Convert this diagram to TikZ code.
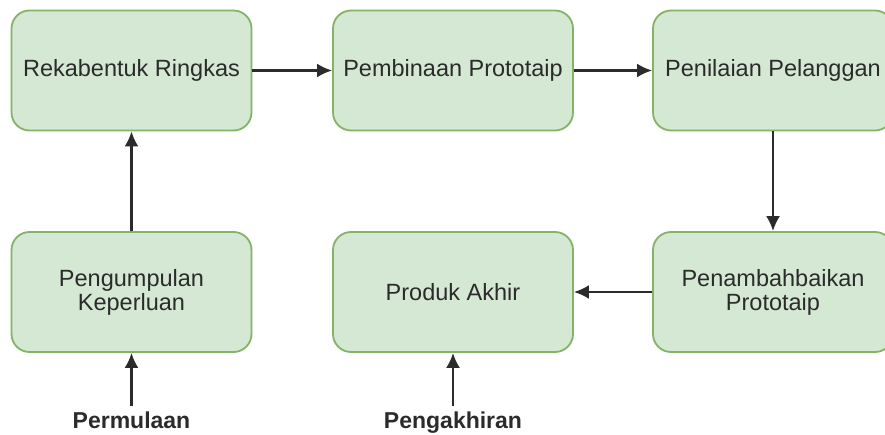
\documentclass[tikz,border=0pt]{standalone}
\usepackage{fontspec}
\setmainfont{Liberation Sans}
\usetikzlibrary{arrows.meta}
\definecolor{boxfill}{HTML}{D5E8D4}
\definecolor{boxline}{HTML}{82B366}
\definecolor{txt}{HTML}{2B2B2B}

\begin{document}
\begin{tikzpicture} [x=1pt, y=-1pt,
  stage/.style={draw=boxline, fill=boxfill, line width=1.8pt, rounded corners=18pt,
    minimum width=240pt, minimum height=120pt, align=center, text=txt,
    font=\fontsize{23.5}{24}\selectfont},
  endlabel/.style={anchor=base, inner sep=5pt, text=txt, font=\fontsize{23}{26}\selectfont\bfseries},
  flow/.style={line width=2.4pt, draw=txt, -{Latex[length=15pt,width=14pt]}}]
\useasboundingbox (0,0) rectangle (885,435);
\clip (0,0) rectangle (885,435);
% top row
\node[stage] (ringkas) at (131.5,70.5) {Rekabentuk Ringkas};
\node[stage] (bina) at (453,70.5) {Pembinaan Prototaip};
\node[stage] (nilai) at (773,70.5) {Penilaian Pelanggan};
% bottom row
\node[stage] (kumpul) at (131.5,292) {Pengumpulan\\Keperluan};
\node[stage] (produk) at (453,292) {Produk Akhir};
\node[stage] (baik) at (773,292) {Penambahbaikan\\Prototaip};
% start / end
\node[endlabel] (mula) at (131.5,428) {Permulaan};
\node[endlabel] (akhir) at (453,428) {Pengakhiran};

\draw[flow] (ringkas) -- (bina);
\draw[flow] (bina) -- (nilai);
\draw[flow] (nilai) -- (baik);
\draw[flow] (baik) -- (produk);
\draw[flow] (kumpul) -- (ringkas);
\draw[flow] (mula) -- (kumpul);
\draw[flow] (akhir) -- (produk);
\end{tikzpicture}
\end{document}
